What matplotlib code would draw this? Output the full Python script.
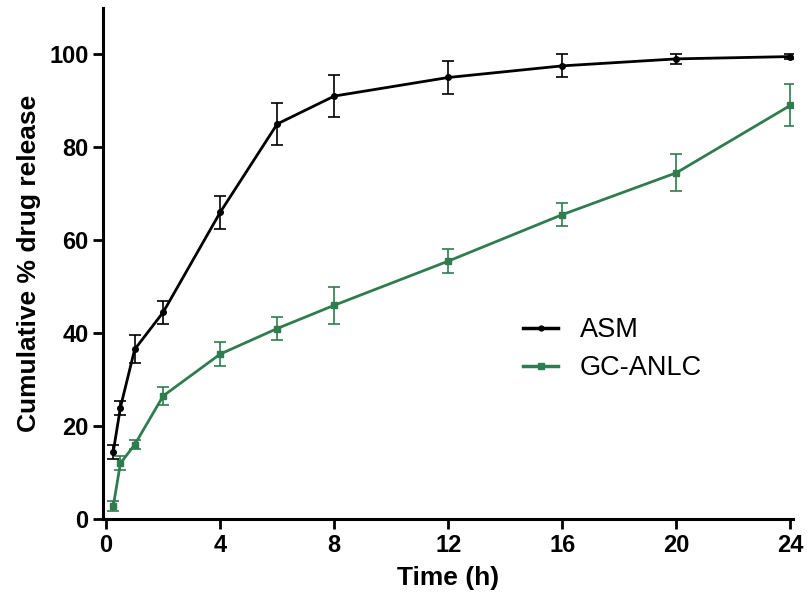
import matplotlib
matplotlib.use("Agg")
import matplotlib.pyplot as plt
from matplotlib.lines import Line2D
from matplotlib import font_manager

time = [0.25, 0.5, 1, 2, 4, 6, 8, 12, 16, 20, 24]
asm = [14.5, 24.0, 36.5, 44.5, 66.0, 85.0, 91.0, 95.0, 97.5, 99.0, 99.5]
asm_err = [1.5, 1.5, 3.0, 2.5, 3.5, 4.5, 4.5, 3.5, 2.5, 1.0, 0.5]
gc = [2.8, 12.0, 16.0, 26.5, 35.5, 41.0, 46.0, 55.5, 65.5, 74.5, 89.0]
gc_err = [1.0, 1.5, 1.0, 2.0, 2.5, 2.5, 4.0, 2.5, 2.5, 4.0, 4.5]
xticks = [0, 4, 8, 12, 16, 20, 24]
yticks = [0, 20, 40, 60, 80, 100]

names = {f.name for f in font_manager.fontManager.ttflist}
narrow = 'Liberation Sans Narrow' if 'Liberation Sans Narrow' in names else 'Liberation Sans'

plt.rcParams['font.family'] = ['Liberation Sans', 'DejaVu Sans']
fig = plt.figure(figsize=(8.07, 5.96), dpi=100)
ax = fig.add_axes([0.128, 0.129, 0.855, 0.858])

green = '#2f7d4e'
ax.errorbar(time, asm, yerr=asm_err, color='black', marker='o', markersize=4,
            linewidth=2, elinewidth=1.2, capsize=4, capthick=1.2, zorder=3)
ax.errorbar(time, gc, yerr=gc_err, color=green, marker='s', markersize=5,
            linewidth=2, elinewidth=1.2, capsize=4, capthick=1.2, zorder=2)

ax.set_xlim(-0.1, 24.1)
ax.set_ylim(0, 110)
ax.set_xticks(xticks)
ax.set_yticks(yticks)
for s in ['top', 'right']:
    ax.spines[s].set_visible(False)
for s in ['left', 'bottom']:
    ax.spines[s].set_linewidth(2.2)
ax.tick_params(width=2, length=7)
for lab in ax.get_xticklabels() + ax.get_yticklabels():
    lab.set_fontweight('bold')
    lab.set_fontsize(17)
    lab.set_family([narrow, 'DejaVu Sans'])
ax.set_xlabel('Time (h)', fontsize=19, fontweight='bold', labelpad=7)
ax.set_ylabel('Cumulative % drug release', fontsize=19, fontweight='bold', labelpad=6)

handles = [Line2D([], [], color='black', marker='o', markersize=3.5, linewidth=2.5),
           Line2D([], [], color=green, marker='s', markersize=5, linewidth=2.5)]
ax.legend(handles, ['ASM', 'GC-ANLC'], loc='upper left',
          bbox_to_anchor=(523 / 807, 1 - 317 / 596), bbox_transform=fig.transFigure,
          frameon=False, fontsize=19.5, handlelength=1.3, handletextpad=0.8,
          labelspacing=0.45, borderpad=0, borderaxespad=0)
fig.savefig('out.png', dpi=100)
